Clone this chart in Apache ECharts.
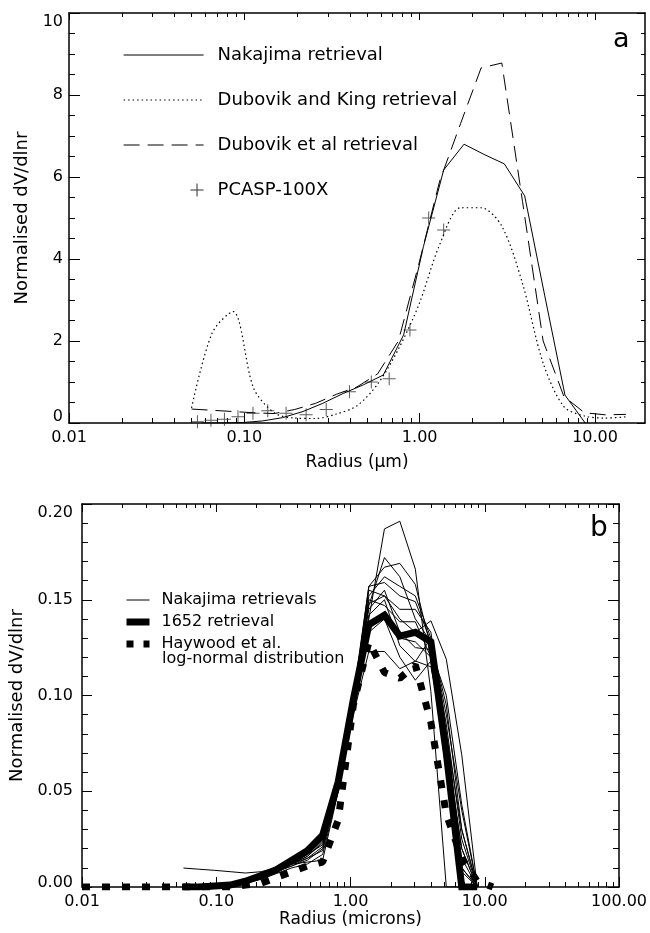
<!DOCTYPE html>
<html><head><meta charset="utf-8">
<script src="https://cdn.jsdelivr.net/npm/echarts@6/dist/echarts.min.js"></script>
<style>html,body{margin:0;padding:0;background:#fff}#c{width:650px;height:933px}</style>
</head><body><div id="c"></div>
<script>
// ---------- Panel a data ----------
const nakaRadius = [0.057,0.074,0.097,0.127,0.165,0.216,0.28,0.366,0.477,0.62,0.81,1.05,1.37,1.79,2.33,3.04,3.97,5.17,6.74,8.79];
const nakajimaA  = [0.0,0.0,0.01,0.05,0.13,0.28,0.48,0.72,0.93,1.17,2.15,4.3,6.17,6.80,6.55,6.32,5.54,3.1,0.68,0.0];
const dubRadius  = [0.05,0.0656,0.0861,0.113,0.148,0.194,0.255,0.335,0.439,0.576,0.756,0.992,1.30,1.71,2.24,2.94,3.86,5.06,6.64,8.71,11.43,15.0];
const dubovikKing = [0.37,2.2,2.72,0.85,0.25,0.12,0.11,0.22,0.42,0.95,1.8,2.9,4.35,5.25,5.25,4.8,3.4,1.46,0.4,0.17,0.12,0.15];
const dubovikEtAl = [0.34,0.31,0.28,0.25,0.23,0.33,0.48,0.70,0.88,1.2,2.0,3.9,5.9,7.3,8.66,8.78,5.4,2.0,0.65,0.25,0.2,0.21];
const pcaspRadius = [0.054,0.0645,0.077,0.092,0.112,0.136,0.173,0.225,0.293,0.398,0.53,0.67,0.88,1.125,1.37];
const pcaspValues = [0.03,0.07,0.09,0.15,0.24,0.30,0.24,0.20,0.33,0.76,1.0,1.08,2.27,5.0,4.71];
const xTicksA = [0.01,0.1,1,10];
const yTicksA = [0,2,4,6,8,10];

// ---------- Panel b data ----------
const nak01 = [0,0,0,0.001,0.003,0.006,0.010,0.014,0.019,0.028,0.058, 0.100,0.140,0.187,0.191,0.166,0.102,0.0,0.0,0.0];
const nak02 = [0,0,0,0.001,0.003,0.005,0.008,0.012,0.016,0.024,0.054, 0.095,0.148,0.152,0.140,0.133,0.139,0.119,0.069,0.0];
const nak03 = [0.0099,0.0093,0.0087,0.008,0.0073,0.008,0.010,0.014,0.019,0.027,0.056, 0.100,0.157,0.167,0.169,0.158,0.125,0.065,0.015,0.0];
const nak04 = [0,0,0,0.001,0.003,0.006,0.009,0.012,0.013,0.014,0.050, 0.098,0.157,0.159,0.152,0.149,0.128,0.070,0.020,0.0];
const nak05 = [0,0,0,0.001,0.003,0.005,0.008,0.011,0.014,0.020,0.052, 0.097,0.155,0.152,0.145,0.145,0.133,0.080,0.030,0.0];
const nak06 = [0,0,0,0.001,0.003,0.006,0.009,0.012,0.016,0.023,0.057, 0.096,0.150,0.147,0.1385,0.1385,0.120,0.060,0.010,0.0];
const nak07 = [0,0,0,0.001,0.002,0.005,0.008,0.011,0.015,0.021,0.053, 0.094,0.142,0.150,0.126,0.1177,0.130,0.090,0.040,0.0];
const nak08 = [0,0,0,0.001,0.002,0.004,0.007,0.010,0.012,0.017,0.050, 0.090,0.123,0.123,0.114,0.118,0.115,0.075,0.020,0.0];
const nak09 = [0,0,0,0.001,0.003,0.006,0.009,0.013,0.017,0.025,0.055, 0.095,0.133,0.140,0.120,0.108,0.118,0.065,0.010,0.0];
const nak10 = [0,0,0,0.001,0.003,0.006,0.009,0.013,0.018,0.027,0.057, 0.097,0.145,0.155,0.133,0.125,0.124,0.100,0.043,0.0];
const nak11 = [0,0,0,0.001,0.003,0.005,0.008,0.012,0.017,0.022,0.054, 0.099,0.152,0.162,0.157,0.152,0.130,0.085,0.025,0.0];
const nak12 = [0,0,0,0.001,0.002,0.005,0.008,0.012,0.015,0.019,0.051, 0.093,0.138,0.143,0.130,0.128,0.120,0.070,0.008,0.0];
const nak13 = [0,0,0,0.001,0.003,0.006,0.010,0.014,0.019,0.027,0.056, 0.098,0.147,0.172,0.162,0.140,0.128,0.095,0.030,0.0];
const retrieval1652 = [0,0,0.0005,0.001,0.003,0.006,0.009,0.014,0.019,0.027,0.055,0.098,0.137,0.142,0.131,0.133,0.128,0.070,0.0,0.0];
const haywoodRadius = [0.01,0.057,0.074,0.097,0.127,0.165,0.216,0.28,0.366,0.477,0.62,0.81,1.05,1.37,1.79,2.33,3.04,3.97,5.17,6.74,8.79,11.5];
const haywoodValues = [0,0,0,0,0,0.001,0.002,0.005,0.008,0.011,0.013,0.035,0.095,0.128,0.112,0.109,0.116,0.086,0.038,0.015,0.003,0];
const xTicksB = [0.01,0.1,1,10,100];
const yTicksB = [0,0.05,0.10,0.15,0.20];

// ---------- helpers ----------
const FONT = 'DejaVu Sans';
const pts = (rs, vs) => rs.map((r, i) => [Math.log10(r), vs[i]]);
function minorLog(minL, maxL) {
  const out = [];
  for (let d = Math.floor(minL); d < maxL; d++) {
    for (let k = 2; k < 10; k++) { const v = d + Math.log10(k); if (v > minL && v < maxL) out.push(v); }
  }
  return out;
}
const AX = { color: '#000', width: 1.5 };
const TK = { color: '#000', width: 1 };

function xAxes(gi, min, max, majors, o) {
  const majorL = majors.map(Math.log10);
  const minorL = minorLog(min, max);
  const base = { gridIndex: gi, type: 'value', min, max, splitLine: { show: false } };
  return [
    Object.assign({}, base, {
      position: 'bottom',
      axisLine: { show: true, onZero: false, lineStyle: AX },
      axisTick: { show: true, inside: true, length: o.bMaj, customValues: majorL, lineStyle: TK },
      axisLabel: { show: true, customValues: majorL, formatter: v => Math.pow(10, v).toFixed(2),
                   fontFamily: FONT, fontSize: 16, color: '#000', margin: 7 },
      name: o.name, nameLocation: 'middle', nameGap: o.nameGap,
      nameTextStyle: { fontFamily: FONT, fontSize: 17, color: '#000' }
    }),
    Object.assign({}, base, {
      position: 'bottom',
      axisLine: { show: false, onZero: false },
      axisTick: { show: true, inside: true, length: o.bMin, customValues: minorL, lineStyle: TK },
      axisLabel: { show: false }
    }),
    Object.assign({}, base, {
      position: 'top',
      axisLine: { show: true, onZero: false, lineStyle: AX },
      axisTick: { show: true, inside: true, length: o.tMaj, customValues: majorL, lineStyle: TK },
      axisLabel: { show: false }
    }),
    Object.assign({}, base, {
      position: 'top',
      axisLine: { show: false, onZero: false },
      axisTick: { show: true, inside: true, length: o.tMin, customValues: minorL, lineStyle: TK },
      axisLabel: { show: false }
    })
  ];
}

function yAxes(gi, min, max, interval, splitN, o) {
  const base = { gridIndex: gi, type: 'value', min, max, interval, splitLine: { show: false } };
  return [
    Object.assign({}, base, {
      position: 'left',
      axisLine: { show: true, onZero: false, lineStyle: AX },
      axisTick: { show: true, inside: true, length: o.lMaj, lineStyle: TK },
      minorTick: { show: true, splitNumber: splitN, length: o.lMin, lineStyle: TK },
      axisLabel: {
        fontFamily: FONT, fontSize: 16, color: '#000', margin: o.margin,
        formatter: v => {
          const t = o.fmt(v);
          if (Math.abs(v - max) < 1e-9) return '{hi|' + t + '}';
          if (Math.abs(v - min) < 1e-9) return '{lo|' + t + '}';
          return t;
        },
        rich: {
          hi: { fontFamily: FONT, fontSize: 16, color: '#000', padding: [18, 0, 0, 0] },
          lo: { fontFamily: FONT, fontSize: 16, color: '#000', padding: [0, 0, o.loPad, 0] }
        }
      },
      name: 'Normalised dV/dlnr', nameLocation: 'middle', nameGap: o.nameGap, nameRotate: 90,
      nameTextStyle: { fontFamily: FONT, fontSize: 18, color: '#000' }
    }),
    Object.assign({}, base, {
      position: 'right',
      axisLine: { show: true, onZero: false, lineStyle: AX },
      axisTick: { show: true, inside: true, length: o.rMaj, lineStyle: TK },
      minorTick: { show: true, splitNumber: splitN, length: o.rMin, lineStyle: TK },
      axisLabel: { show: false }
    })
  ];
}

const A_MAX = 1.285, B_MIN = -2, B_MAX = 2;

const xA = xAxes(0, -2, A_MAX, xTicksA, { bMaj: 10, bMin: 5, tMaj: 7, tMin: 4, name: 'Radius (μm)', nameGap: 31 });
const xB = xAxes(1, B_MIN, B_MAX, xTicksB, { bMaj: 10, bMin: 5, tMaj: 8, tMin: 4, name: 'Radius (microns)', nameGap: 23 });
const yA = yAxes(0, yTicksA[0], yTicksA[yTicksA.length - 1], 2, 4,
  { lMaj: 11, lMin: 6, rMaj: 8, rMin: 4, margin: 6, loPad: 12, nameGap: 37, fmt: v => String(v) });
const yB = yAxes(1, yTicksB[0], yTicksB[yTicksB.length - 1], 0.05, 5,
  { lMaj: 10, lMin: 6, rMaj: 11, rMin: 6, margin: 9, loPad: 8, nameGap: 51, fmt: v => v.toFixed(2) });

const crossPath = 'path://M0,6H13V7H0Z M6,0H7V13H6Z';
const crossLegend = 'path://M0,6.5h0.05v0.05h-0.05Z M66,6H79V7H66Z M72,0H73V13H72Z';

const series = [
  { type: 'line', name: 'Nakajima retrieval', xAxisIndex: 0, yAxisIndex: 0, data: pts(nakaRadius, nakajimaA),
    symbol: 'none', lineStyle: { color: '#000', width: 1 }, itemStyle: { color: '#000' } },
  { type: 'line', name: 'Dubovik and King retrieval', xAxisIndex: 0, yAxisIndex: 0, data: pts(dubRadius, dubovikKing),
    symbol: 'none', smooth: 0.3, lineStyle: { color: '#000', width: 1.2, type: [1.5, 3] }, itemStyle: { color: '#000' } },
  { type: 'line', name: 'Dubovik et al retrieval', xAxisIndex: 0, yAxisIndex: 0, data: pts(dubRadius, dubovikEtAl),
    symbol: 'none', lineStyle: { color: '#000', width: 1, type: [16, 8] }, itemStyle: { color: '#000' } },
  { type: 'scatter', name: 'PCASP-100X', xAxisIndex: 0, yAxisIndex: 0, data: pts(pcaspRadius, pcaspValues),
    symbol: crossPath, symbolSize: 13, itemStyle: { color: '#333' } }
];
const thin = [nak01, nak02, nak03, nak04, nak05, nak06, nak07, nak08, nak09, nak10, nak11, nak12, nak13];
thin.forEach(arr => series.push({
  type: 'line', name: 'Nakajima retrievals', xAxisIndex: 4, yAxisIndex: 2, data: pts(nakaRadius, arr),
  symbol: 'none', lineStyle: { color: '#000', width: 1 }, itemStyle: { color: '#000' }, z: 2
}));
series.push({ type: 'line', name: '1652 retrieval', xAxisIndex: 4, yAxisIndex: 2, data: pts(nakaRadius, retrieval1652),
  symbol: 'none', lineStyle: { color: '#000', width: 7, join: 'miter' }, itemStyle: { color: '#000' }, z: 3 });
series.push({ type: 'line', name: 'Haywood et al.', xAxisIndex: 4, yAxisIndex: 2, data: pts(haywoodRadius, haywoodValues),
  symbol: 'none', lineStyle: { color: '#000', width: 7, type: [8, 12], cap: 'butt' }, itemStyle: { color: '#000' }, z: 4 });

const option = {
  animation: false,
  backgroundColor: '#fff',
  grid: [
    { left: 69, top: 13, width: 576, height: 410 },
    { left: 82, top: 504, width: 539, height: 383 }
  ],
  xAxis: xA.concat(xB),
  yAxis: yA.concat(yB),
  legend: [
    { orient: 'vertical', left: 123, top: 46, padding: 0, itemWidth: 80, itemHeight: 14, itemGap: 27,
      selectedMode: false, lineStyle: { width: 1 }, itemStyle: { opacity: 0 },
      textStyle: { fontFamily: FONT, fontSize: 18, lineHeight: 14, color: '#000', padding: [0, 0, 0, 9] },
      data: ['Nakajima retrieval',
             { name: 'Dubovik and King retrieval', lineStyle: { width: 1.2 } },
             'Dubovik et al retrieval',
             { name: 'PCASP-100X', icon: crossLegend, itemStyle: { color: '#333', opacity: 1 } }] },
    { orient: 'vertical', left: 123, top: 592, padding: 0, itemWidth: 23, itemHeight: 14, itemGap: 6,
      selectedMode: false, itemStyle: { opacity: 0 },
      textStyle: { fontFamily: FONT, fontSize: 16, lineHeight: 14, color: '#000', padding: [0, 0, 0, 7] },
      data: [{ name: 'Nakajima retrievals', lineStyle: { width: 1 } },
             { name: '1652 retrieval', lineStyle: { width: 7 } },
             { name: 'Haywood et al.', lineStyle: { width: 7, type: [7, 10] } }] }
  ],
  graphic: [
    { type: 'text', left: 613, top: 26, style: { text: 'a', font: '27px "DejaVu Sans"', fill: '#000' } },
    { type: 'text', left: 590, top: 515, style: { text: 'b', font: '28px "DejaVu Sans"', fill: '#000' } },
    { type: 'text', left: 162, top: 651, style: { text: 'log-normal distribution', font: '16px "DejaVu Sans"', fill: '#000' } }
  ],
  series
};
const chart = echarts.init(document.getElementById('c'), null, { renderer: 'canvas' });
chart.setOption(option);
</script></body></html>
